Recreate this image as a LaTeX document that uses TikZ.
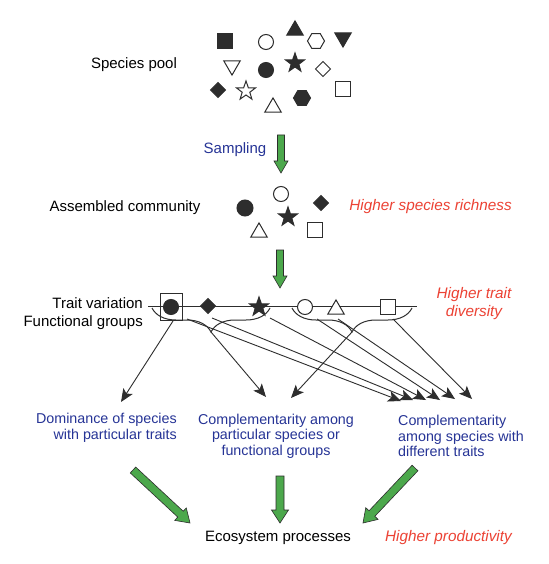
\documentclass[tikz,border=0pt]{standalone}
\usepackage{fontspec}
\setmainfont{Liberation Sans}
\usetikzlibrary{shapes.geometric,arrows.meta,decorations.pathreplacing,calc}
\definecolor{tblue}{RGB}{38,52,150}
\definecolor{tred}{RGB}{236,66,52}
\definecolor{tgreen}{RGB}{76,168,76}
\definecolor{tdark}{RGB}{45,45,45}
\newcommand{\greenarr}[5]{%
  \coordinate (gC) at ($(#2)!#5!(#1)$);
  \draw[garr] ($(#1)!#3!90:(#2)$) -- ($(gC)!#3!-90:(#1)$) -- ($(gC)!#4!-90:(#1)$) -- (#2)
    -- ($(gC)!#4!90:(#1)$) -- ($(gC)!#3!90:(#1)$) -- ($(#1)!#3!-90:(#2)$) -- cycle;}
\begin{document}
\begin{tikzpicture}[x=1pt,y=-1pt,
  shp/.style={draw=tdark,line width=1pt,inner sep=0pt,outer sep=0pt},
  fil/.style={shp,fill=tdark},
  opn/.style={shp,fill=white},
  sq/.style={rectangle,minimum size=14.5pt},
  ci/.style={circle,minimum size=15pt},
  triup/.style={regular polygon,regular polygon sides=3,minimum size=19pt,yshift=-2.4pt},
  tridn/.style={regular polygon,regular polygon sides=3,minimum size=19pt,shape border rotate=180,yshift=2.4pt},
  hexa/.style={regular polygon,regular polygon sides=6,minimum size=17pt},
  dia/.style={diamond,minimum width=15pt,minimum height=15pt},
  starr/.style={star,star points=5,star point ratio=2.5,minimum size=20pt},
  blk/.style={font=\fontsize{15}{18}\selectfont,text=black,inner sep=0pt},
  blu/.style={font=\fontsize{14.3}{15.5}\selectfont,text=tblue,inner sep=0pt},
  red/.style={font=\fontsize{15.3}{18}\selectfont\itshape,text=tred,inner sep=0pt},
  conn/.style={draw=tdark,line width=0.9pt,-{Stealth[length=13pt,width=11pt,inset=3pt]}},
  brc/.style={draw=tdark,line width=1pt,decorate,decoration={brace,amplitude=24pt,mirror}},
  garr/.style={fill=tgreen,draw=tdark,line width=0.6pt,line join=miter}
]
\fill[white] (0,0) rectangle (548,564);

% Species pool
\node[blk] (pooltxt) at (134,65) {Species pool};
\node[fil,sq] (p1) at (225,41) {};
\node[opn,ci] (p2) at (266,42) {};
\node[fil,triup] (p3) at (295,28) {};
\node[opn,hexa] (p4) at (316,41) {};
\node[fil,tridn] (p5) at (343,40) {};
\node[opn,tridn] (p6) at (232,68) {};
\node[fil,ci] (p7) at (266,70) {};
\node[fil,starr] (p8) at (295,63) {};
\node[opn,dia] (p9) at (323,69) {};
\node[fil,dia] (p10) at (218,90) {};
\node[opn,starr] (p11) at (246,91) {};
\node[opn,triup] (p12) at (273,105) {};
\node[fil,hexa] (p13) at (302,98) {};
\node[opn,sq] (p14) at (343,89) {};

% Sampling
\node[blu,font=\fontsize{15}{18}\selectfont] (samp) at (235,150) {Sampling};
\coordinate (a1s) at (281,135);
\coordinate (a1e) at (281,173);
\greenarr{a1s}{a1e}{3.5pt}{7pt}{12pt}

% Assembled community
\node[blk] (commtxt) at (125,208) {Assembled community};
\node[fil,ci,minimum size=16pt] (c1) at (245,208) {};
\node[opn,ci] (c2) at (281,194) {};
\node[fil,dia] (c3) at (321,203) {};
\node[fil,starr] (c4) at (288,217) {};
\node[opn,triup] (c5) at (259,230) {};
\node[opn,sq] (c6) at (315,230) {};
\node[red,anchor=east] (rich) at (512,207) {Higher species richness};

\coordinate (a2s) at (280,250);
\coordinate (a2e) at (280,288);
\greenarr{a2s}{a2e}{3.5pt}{7pt}{12pt}

% Trait variation line
\node[blk,anchor=east,align=right] (traittxt) at (143,314) {Trait variation\\Functional groups};
\coordinate (lineL) at (148,306);
\coordinate (lineR) at (417,306);
\draw[draw=tdark,line width=1pt] (lineL) -- (lineR);
\node[opn,rectangle,minimum width=22pt,minimum height=27pt,fill=none] (t0) at (171,307) {};
\node[fil,ci] (t1) at (171,307) {};
\node[fil,dia] (t2) at (208,306) {};
\node[fil,starr] (t3) at (259,307) {};
\node[opn,ci] (t4) at (305,307) {};
\node[opn,triup] (t5) at (336,307) {};
\node[opn,sq] (t6) at (388,307) {};
\node[red,align=center] (tdiv) at (474,304) {Higher trait\\diversity};

% braces
\coordinate (b1a) at (152,308);
\coordinate (b1b) at (270,308);
\coordinate (b2a) at (292,308);
\coordinate (b2b) at (412,308);
\draw[brc] (b1a) -- (b1b);
\draw[brc] (b2a) -- (b2b);
\coordinate (b1tip) at (211,332);
\coordinate (b2tip) at (352,332);

% targets
\node[blu,anchor=east,align=right] (dom) at (177,428) {Dominance of species\\with particular traits};
\node[blu,align=center] (compA) at (276,436) {Complementarity among\\particular species or\\functional groups};
\node[blu,anchor=west,align=left] (compB) at (398,436) {Complementarity\\among species with\\different traits};

\coordinate (d0) at (173,321);
\coordinate (dT) at (121,402);
\draw[conn] (d0) -- (dT);
\coordinate (mA) at (266,397);
\coordinate (mB) at (291,398);
\draw[conn] (b1tip) -- (mA);
\draw[conn] (b2tip) -- (mB);

\coordinate (s1) at (187,319); \coordinate (e1) at (401,401);
\coordinate (s2) at (212,318); \coordinate (e2) at (413,400);
\coordinate (s3) at (270,318); \coordinate (e3) at (426,400);
\coordinate (s4) at (317,319); \coordinate (e4) at (440,400);
\coordinate (s5) at (338,319); \coordinate (e5) at (455,399);
\coordinate (s6) at (393,319); \coordinate (e6) at (472,399);
\foreach \i in {1,...,6}{\draw[conn] (s\i) -- (e\i);}

% bottom
\coordinate (g1s) at (133,470); \coordinate (g1e) at (190,523);
\coordinate (g2s) at (280,476); \coordinate (g2e) at (280,523);
\coordinate (g3s) at (415,468); \coordinate (g3e) at (363,523);
\greenarr{g1s}{g1e}{4pt}{8.5pt}{13pt}
\greenarr{g2s}{g2e}{4pt}{8.5pt}{13pt}
\greenarr{g3s}{g3e}{4pt}{8.5pt}{13pt}

\node[blk] (eco) at (278,538) {Ecosystem processes};
\node[red,anchor=east] (prod) at (512,538) {Higher productivity};
\end{tikzpicture}
\end{document}
